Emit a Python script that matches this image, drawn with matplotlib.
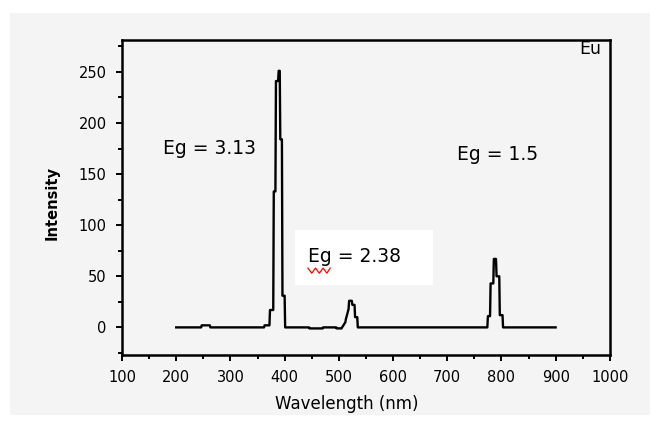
import matplotlib.pyplot as plt
from matplotlib.patches import Rectangle
from matplotlib.ticker import MultipleLocator

# spectrum (wavelength nm, intensity)
wavelength = [200, 246, 247, 262, 263, 362, 363, 372, 373, 379, 380, 383, 384, 388,
              389, 391, 392, 395, 396, 400, 401, 445, 446, 470, 471, 495, 496,
              505, 506, 512, 513, 518, 519, 524, 525, 529, 530, 534, 535,
              774, 775, 779, 780, 785, 786, 790, 791, 796, 797, 802, 803, 900]
intensity = [0, 0, 2, 2, 0, 0, 2, 2, 17, 17, 133, 133, 241, 241,
             251, 251, 184, 184, 31, 31, 0, 0, -1, -1, 0, 0, -1,
             -1, 0, 5, 8, 18, 26, 26, 22, 22, 10, 10, 0,
             0, 11, 11, 43, 43, 67, 67, 50, 50, 12, 12, 0, 0]

labels = ["Eg = 3.13", "Eg = 2.38", "Eg = 1.5", "Eu"]
xticks = [100, 200, 300, 400, 500, 600, 700, 800, 900, 1000]
yticks = [0, 50, 100, 150, 200, 250]

fig = plt.figure(figsize=(6.61, 4.26), dpi=100)
fig.patch.set_facecolor("white")
fig.patches.append(Rectangle((0.015, 0.025), 0.968, 0.945, transform=fig.transFigure,
                             facecolor="#f4f4f4", edgecolor="none", zorder=-10))

ax = fig.add_axes([0.1846, 0.1667, 0.738, 0.739])
ax.set_facecolor("#f4f4f4")
ax.plot(wavelength, intensity, color="black", lw=1.7, zorder=3)

ax.set_xlim(100, 1000)
ax.set_ylim(-27, 281)
ax.set_xticks(xticks)
ax.set_yticks(yticks)
ax.xaxis.set_minor_locator(MultipleLocator(50))
ax.yaxis.set_minor_locator(MultipleLocator(25))
ax.tick_params(which="both", direction="out", width=1.4, labelsize=10.5, pad=7)
ax.tick_params(which="major", length=4)
ax.tick_params(which="minor", length=3)
for s in ax.spines.values():
    s.set_linewidth(1.8)

ax.set_xlabel("Wavelength (nm)", fontsize=12)
ax.xaxis.set_label_coords(0.461, -0.126)
ax.set_ylabel("Intensity", fontsize=10.5, fontweight="bold")
ax.yaxis.set_label_coords(-0.128, 0.483)

ax.text(176, 175, labels[0], fontsize=13.5, va="center")
# white box behind the middle label
ax.add_patch(Rectangle((419, 41), 254, 54, facecolor="white", edgecolor="none", zorder=1))
ax.text(443, 69, labels[1], fontsize=13.5, va="center", zorder=2)
# red spell-check squiggle under "Eg"
ax.plot([443, 450, 457, 464, 471, 478, 484], [58, 53, 58, 53, 58, 53, 58],
        color="red", lw=0.9, zorder=2)
ax.text(718, 169, labels[2], fontsize=13.5, va="center")
ax.text(985, 272, labels[3], fontsize=12.5, ha="right", va="center")

fig.savefig("out.png", dpi=100)
